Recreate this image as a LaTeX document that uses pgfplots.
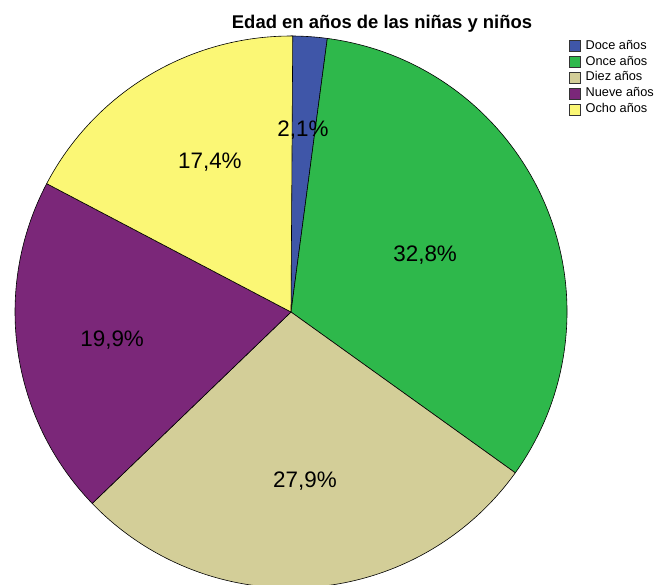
\documentclass[border=0pt]{standalone}
\usepackage{pgfplots}
\pgfplotsset{compat=1.18}
\usepackage{pgfplotstable}
\usepackage{fontspec}
\setmainfont{Liberation Sans}

\definecolor{doce}{HTML}{3F56A8}
\definecolor{once}{HTML}{2EB84B}
\definecolor{diez}{HTML}{D3CE98}
\definecolor{nueve}{HTML}{7B2779}
\definecolor{ocho}{HTML}{FBF775}

% share of each age (percent), slice colour, label radius and angle shift
\pgfplotstableread[col sep=comma]{
name,pct,col,lr,lo
Doce años,2.1,doce,0.661,0
Once años,32.8,once,0.528,-0.4
Diez años,27.9,diez,0.616,0.56
Nueve años,19.9,nueve,0.656,0.8
Ocho años,17.4,ocho,0.618,-2.56
}\edades

\pgfkeys{/pgf/number format/.cd, use comma, fixed, fixed zerofill, precision=1, assume math mode=true}
\tikzset{pielabel/.style={font=\fontsize{22.5}{27}\selectfont}}
\pgfplotsset{pieleg/.style={legend image code/.code={%
  \draw[##1, draw=black!80, line width=0.5bp] (0bp,-5.5bp) rectangle (11bp,5.5bp);}}}

\begin{document}
\begin{tikzpicture}
\useasboundingbox (0,0) rectangle (656bp,-585bp);
\node[font=\fontsize{18.5}{22}\selectfont\bfseries, anchor=base] at (382bp,-28bp) {Edad en años de las niñas y niños};
\begin{axis}[
  hide axis, scale only axis,
  width=552bp, height=552bp,
  xmin=-1, xmax=1, ymin=-1, ymax=1,
  at={(291bp,-312bp)}, anchor=center, clip=false,
  legend cell align=left,
  legend style={at={(1.0036,0.9928)}, anchor=north west, draw=none, fill=none,
    inner sep=0pt, row sep=4.4bp, column sep=5bp,
    nodes={inner sep=0pt, text height=9bp, text depth=2.5bp},
    font=\fontsize{12.8}{15}\selectfont},
]
% slices
\def\angA{90}
\pgfplotsforeachungrouped \i in {0,...,4}{
  \pgfplotstablegetelem{\i}{pct}\of\edades \let\p\pgfplotsretval
  \pgfplotstablegetelem{\i}{col}\of\edades \let\slicecol\pgfplotsretval
  \pgfplotstablegetelem{\i}{name}\of\edades \let\nm\pgfplotsretval
  \pgfmathsetmacro\angB{\angA-3.6*\p}
  \pgfmathsetmacro\sx{cos(\angA)}
  \pgfmathsetmacro\sy{sin(\angA)}
  \edef\cmd{%
    \noexpand\fill[fill=\slicecol, draw=black, line width=0.6bp]
      (axis cs:0,0) -- (axis cs:\sx,\sy) arc[start angle=\angA, end angle=\angB, radius=276bp] -- cycle;
    \noexpand\addlegendimage{pieleg, fill=\slicecol}
    \noexpand\addlegendentry{\nm}
  }
  \cmd
  \global\let\angA\angB
}
% percentage labels, on top of all slices
\def\angA{90}
\pgfplotsforeachungrouped \i in {0,...,4}{
  \pgfplotstablegetelem{\i}{pct}\of\edades \let\p\pgfplotsretval
  \pgfplotstablegetelem{\i}{lr}\of\edades \let\lr\pgfplotsretval
  \pgfplotstablegetelem{\i}{lo}\of\edades \let\lo\pgfplotsretval
  \pgfmathsetmacro\angB{\angA-3.6*\p}
  \pgfmathsetmacro\mid{(\angA+\angB)/2+\lo}
  \pgfmathsetmacro\lx{\lr*cos(\mid)}
  \pgfmathsetmacro\ly{\lr*sin(\mid)}
  \edef\cmd{%
    \noexpand\node[pielabel] at (axis cs:\lx,\ly) {\noexpand\pgfmathprintnumber{\p}\noexpand\%};
  }
  \cmd
  \global\let\angA\angB
}
\end{axis}
\end{tikzpicture}
\end{document}
